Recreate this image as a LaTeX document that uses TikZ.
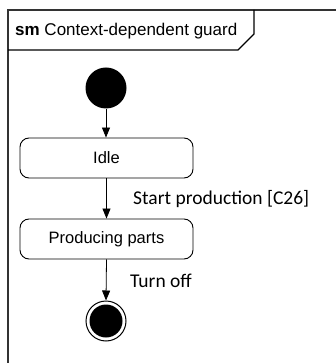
\documentclass[tikz,border=0pt]{standalone}
\usepackage{fontspec}
\setmainfont{Liberation Sans}
\newfontfamily\trfont{Carlito}
\usetikzlibrary{arrows.meta}

\tikzset{
  state/.style={draw, line width=0.9pt, rounded corners=9pt, minimum width=173pt, minimum height=40pt,
                inner sep=0pt, font=\fontsize{16.5}{18}\selectfont},
  trans/.style={-{Triangle[length=10pt,width=8pt]}, line width=0.8pt},
  guard/.style={anchor=west, inner sep=0pt, font=\trfont\fontsize{19.5}{22}\selectfont},
  frameline/.style={line width=1.6pt, draw=black!80},
}

\begin{document}
\begin{tikzpicture}[x=1pt,y=-1pt]
            \useasboundingbox (0,0) rectangle (336,363);
            % frame with its name tab
            \draw[frameline] (8,363) -- (8,10) -- (336,10);
            \draw[line width=1.1pt] (8,50) -- (238,50) -- (254,34) -- (254,10);
            \node[anchor=west, inner sep=0pt, font=\fontsize{17}{19}\selectfont](title) at (15,31)
                {\textbf{sm} Context-dependent guard};

            \node[circle, fill=black, minimum size=41pt, inner sep=0pt](init) at (106,88) {};
            \node[state](idle) at (106.5,158) {Idle};
            \node[state](prod) at (106.5,239) {Producing parts};
            \node[circle, draw, line width=1pt, minimum size=40pt, inner sep=0pt](final) at (106,321) {};
            \fill (final.center) circle (16.5pt);

            \node[guard](start) at (133,199) {Start production [C26]};
            \node[guard](off) at (130,281) {Turn off};

            \path
                (init) edge [trans] (init |- idle.north)
                (idle.south) edge [trans] (prod.north)
                (prod.south) edge [trans] (final.north)
                ;
        \end{tikzpicture}
\end{document}
